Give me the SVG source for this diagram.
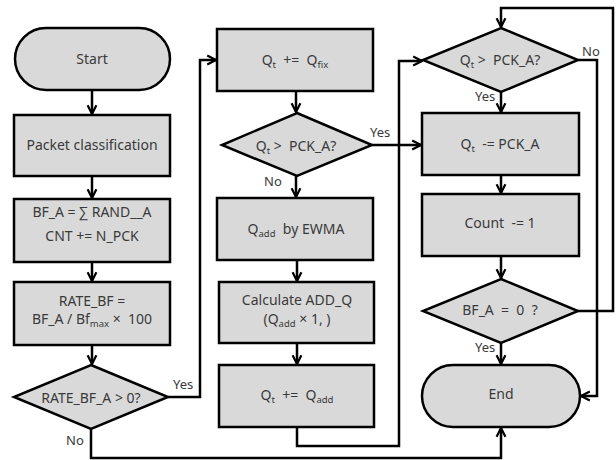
<svg xmlns="http://www.w3.org/2000/svg" width="616" height="460" viewBox="0 0 616 460">
<style>
.s{fill:#d9d9d9;stroke:#000;stroke-width:2.5}
.t{font-family:"Noto Sans","Open Sans",sans-serif;font-size:14px;fill:#3a3a3a;text-anchor:middle}
.l{font-family:"Noto Sans","Open Sans",sans-serif;font-size:13px;fill:#3a3a3a}
.c{fill:none;stroke:#000;stroke-width:2.5}
.sub{font-size:9.5px}
</style>
<defs>
<marker id="a" viewBox="0 0 10 10" refX="9" refY="5" markerWidth="11" markerHeight="13" markerUnits="userSpaceOnUse" orient="auto">
<path d="M1,1 L9,5 L1,9" fill="none" stroke="#000" stroke-width="2"/>
</marker>
</defs>
<rect width="616" height="460" fill="#fff"/>
<g id="connectors" class="c" marker-end="url(#a)">
<path d="M92,90 V114"/>
<path d="M92,176 V198"/>
<path d="M92,262 V281"/>
<path d="M92,345 V364"/>
<path d="M168,397 H200 V60 H216"/>
<path d="M91,429 V458 H501 V428"/>
<path d="M296,91 V112"/>
<path d="M372,145 H421"/>
<path d="M296,176 V197"/>
<path d="M297,260 V281"/>
<path d="M297,343 V364"/>
<path d="M297,427 V446 H399 V61 H422"/>
<path d="M501,92 V112"/>
<path d="M501,175 V193"/>
<path d="M501,256 V278"/>
<path d="M501,343 V364"/>
<path d="M578,311 H613 V8 H501 V27"/>
<path d="M578,60 H597 V396 H581"/>
</g>
<g id="start"><rect class="s" x="15" y="28" width="155" height="62" rx="31"/><text class="t" x="92" y="64">Start</text></g>
<g id="classify"><rect class="s" x="14" y="115" width="156" height="61"/><text class="t" x="92" y="150">Packet classification</text></g>
<g id="bfa"><rect class="s" x="14" y="199" width="156" height="63"/><text class="t" x="92" y="217" xml:space="preserve">BF_A = ∑ RAND__A</text><text class="t" x="92" y="241" xml:space="preserve">CNT += N_PCK</text></g>
<g id="ratebf"><rect class="s" x="14" y="282" width="156" height="63"/><text class="t" x="92" y="306">RATE_BF =</text><text class="t" x="92" y="324" xml:space="preserve">BF_A / Bf<tspan class="sub" dy="3">max</tspan><tspan dy="-3"> ×  100</tspan></text></g>
<g id="d1"><polygon class="s" points="91,365 168,397 91,429 14,397"/><text class="t" x="91" y="403" xml:space="preserve">RATE_BF_A &gt; 0?</text></g>
<text class="l" x="173" y="389">Yes</text>
<text class="l" x="66" y="445">No</text>
<g id="qfix"><rect class="s" x="217" y="29" width="156" height="62"/><text class="t" x="295" y="65" xml:space="preserve">Q<tspan class="sub" dy="3">t</tspan><tspan dy="-3">  +=  Q</tspan><tspan class="sub" dy="3">fix</tspan></text></g>
<g id="d2"><polygon class="s" points="297,113 372,145 297,176 222,145"/><text class="t" x="296" y="151" xml:space="preserve">Q<tspan class="sub" dy="3">t</tspan><tspan dy="-3"> &gt;  PCK_A?</tspan></text></g>
<text class="l" x="370" y="137">Yes</text>
<text class="l" x="264" y="186">No</text>
<g id="ewma"><rect class="s" x="217" y="198" width="156" height="62"/><text class="t" x="296" y="234" xml:space="preserve">Q<tspan class="sub" dy="3">add</tspan><tspan dy="-3">  by EWMA</tspan></text></g>
<g id="calc"><rect class="s" x="219" y="282" width="155" height="61"/><text class="t" x="297" y="305">Calculate ADD_Q</text><text class="t" x="297" y="324" xml:space="preserve">(Q<tspan class="sub" dy="3">add</tspan><tspan dy="-3"> × 1, )</tspan></text></g>
<g id="qadd"><rect class="s" x="219" y="365" width="155" height="62"/><text class="t" x="297" y="400" xml:space="preserve">Q<tspan class="sub" dy="3">t</tspan><tspan dy="-3">  +=  Q</tspan><tspan class="sub" dy="3">add</tspan></text></g>
<g id="d3"><polygon class="s" points="501,28 578,60 501,92 423,60"/><text class="t" x="500" y="65" xml:space="preserve">Q<tspan class="sub" dy="3">t</tspan><tspan dy="-3"> &gt;  PCK_A?</tspan></text></g>
<text class="l" x="582" y="56">No</text>
<text class="l" x="475" y="101">Yes</text>
<g id="sub"><rect class="s" x="422" y="113" width="157" height="62"/><text class="t" x="500" y="149" xml:space="preserve">Q<tspan class="sub" dy="3">t</tspan><tspan dy="-3">  -= PCK_A</tspan></text></g>
<g id="count"><rect class="s" x="422" y="194" width="157" height="62"/><text class="t" x="500" y="228" xml:space="preserve">Count  -= 1</text></g>
<g id="d4"><polygon class="s" points="501,279 578,311 501,343 423,311"/><text class="t" x="500" y="315" xml:space="preserve">BF_A  =  0  ?</text></g>
<text class="l" x="475" y="352">Yes</text>
<g id="end"><rect class="s" x="422" y="365" width="158" height="62" rx="31"/><text class="t" x="501" y="399">End</text></g>
</svg>
